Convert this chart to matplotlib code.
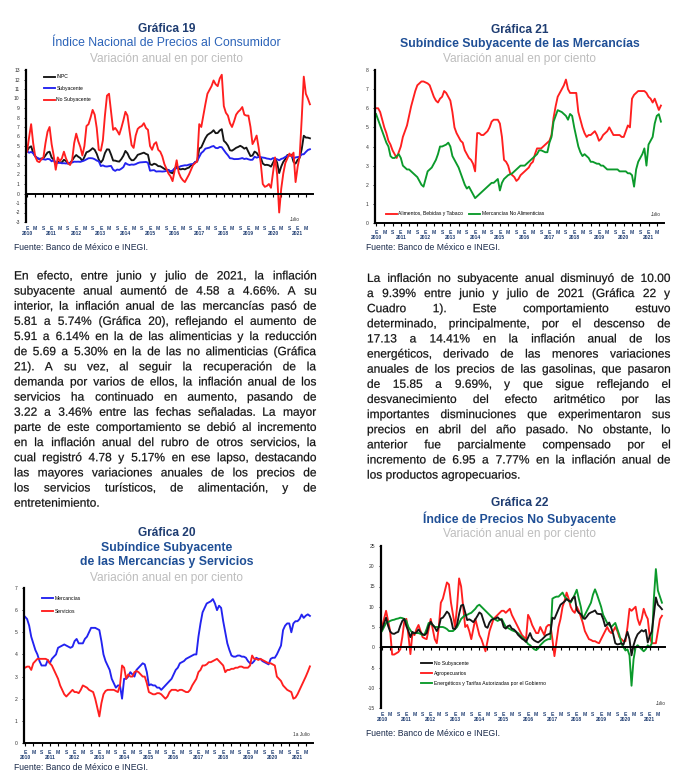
import numpy as np
import matplotlib
matplotlib.use("Agg")
import matplotlib.pyplot as plt
from matplotlib.textpath import TextPath
from matplotlib.patches import PathPatch
from matplotlib.font_manager import FontProperties
from matplotlib.transforms import Affine2D

plt.rcParams['font.family'] = ['Liberation Sans', 'DejaVu Sans']
plt.rcParams['axes.unicode_minus'] = False

# monthly data, Jan 2010 .. Jul 2021 (annual % change)
years = list(range(2010, 2022))

inpc = [4.46, 4.83, 4.97, 4.27, 3.92, 3.69, 3.64, 3.68, 3.70, 4.02, 4.32, 4.40,
        3.78, 3.57, 3.04, 3.36, 3.25, 3.28, 3.55, 3.42, 3.14, 3.20, 3.48, 3.82,
        4.05, 3.87, 3.73, 3.41, 3.85, 4.34, 4.42, 4.57, 4.77, 4.60, 4.18, 3.57,
        3.25, 3.55, 4.25, 4.65, 4.63, 4.09, 3.47, 3.46, 3.39, 3.36, 3.62, 3.97,
        4.48, 4.23, 3.76, 3.50, 3.51, 3.75, 4.07, 4.15, 4.22, 4.30, 4.17, 4.08,
        3.07, 3.00, 3.14, 3.06, 2.88, 2.87, 2.74, 2.59, 2.52, 2.48, 2.21, 2.13,
        2.61, 2.87, 2.60, 2.54, 2.60, 2.54, 2.65, 2.73, 2.97, 3.06, 3.31, 3.36,
        4.72, 4.86, 5.35, 5.82, 6.16, 6.31, 6.44, 6.66, 6.35, 6.37, 6.63, 6.77,
        5.55, 5.34, 5.04, 4.55, 4.51, 4.65, 4.81, 4.90, 5.02, 4.90, 4.72, 4.83,
        4.37, 3.94, 4.00, 4.41, 4.28, 3.95, 3.78, 3.16, 3.00, 3.02, 2.97, 2.83,
        3.24, 3.70, 3.25, 2.15, 2.84, 3.33, 3.62, 4.05, 4.01, 4.09, 3.33, 3.15,
        3.54, 3.76, 4.67, 6.08, 5.89, 5.88, 5.81]

subyacente = [4.47, 4.29, 4.38, 4.24, 3.92, 3.75, 3.65, 3.60, 3.61, 3.56, 3.64, 3.61,
              3.39, 3.51, 3.27, 3.21, 3.25, 3.18, 3.19, 3.16, 3.19, 3.24, 3.26, 3.35,
              3.34, 3.35, 3.33, 3.41, 3.48, 3.60, 3.71, 3.72, 3.70, 3.61, 3.47, 3.39,
              2.89, 2.96, 2.86, 2.84, 2.88, 2.90, 2.51, 2.38, 2.52, 2.48, 2.61, 2.78,
              3.21, 3.07, 3.00, 3.05, 3.03, 3.09, 3.20, 3.27, 3.29, 3.31, 3.32, 3.24,
              2.40, 2.44, 2.46, 2.31, 2.33, 2.33, 2.31, 2.33, 2.38, 2.47, 2.34, 2.41,
              2.64, 2.65, 2.76, 2.88, 2.93, 2.97, 2.96, 3.04, 3.09, 3.10, 3.29, 3.44,
              3.84, 4.26, 4.44, 4.72, 4.78, 4.83, 4.94, 5.00, 4.80, 4.77, 4.90, 4.87,
              4.56, 4.27, 4.02, 3.71, 3.69, 3.62, 3.63, 3.63, 3.67, 3.73, 3.63, 3.68,
              3.60, 3.54, 3.55, 3.87, 3.77, 3.85, 3.82, 3.78, 3.75, 3.68, 3.65, 3.59,
              3.73, 3.66, 3.60, 3.50, 3.64, 3.71, 3.85, 3.97, 3.99, 3.98, 3.66, 3.80,
              3.84, 3.87, 4.12, 4.13, 4.37, 4.58, 4.66]

no_subyacente = [4.4, 5.9, 7.3, 5.3, 3.9, 3.4, 3.3, 3.6, 3.8, 5.3, 6.5, 7.0,
                 5.2, 4.0, 2.5, 3.8, 3.4, 3.7, 4.4, 3.7, 3.2, 3.0, 3.5, 5.3,
                 6.3, 5.5, 4.9, 4.0, 5.0, 7.1, 7.3, 8.0, 8.8, 8.3, 6.9, 4.6,
                 4.5, 5.6, 8.2, 10.3, 10.5, 8.6, 6.7, 6.9, 6.6, 6.2, 6.9, 7.7,
                 8.6, 8.2, 6.6, 5.1, 4.8, 6.1, 6.8, 7.0, 7.1, 7.4, 6.9, 6.7,
                 5.0, 4.6, 5.2, 5.4, 4.6, 4.4, 3.9, 3.1, 2.6, 2.1, 1.8, 1.3,
                 2.4, 3.5, 2.2, 1.7, 1.4, 1.2, 1.6, 2.0, 2.5, 3.0, 3.2, 3.4,
                 7.3, 7.0, 8.2, 9.4, 10.5, 10.9, 11.3, 11.9, 11.5, 11.3, 12.1, 12.5,
                 9.2, 8.5, 8.2, 7.4, 7.0, 7.6, 8.3, 8.6, 8.8, 9.1, 8.3, 8.2,
                 8.2, 7.0, 5.2, 5.6, 6.1, 4.8, 3.2, 1.0, 0.7, 0.8, 1.0, 0.6,
                 2.2, 3.8, 2.0, -2.0, 0.5, 2.1, 3.2, 3.7, 4.2, 3.9, 4.3, 1.2,
                 2.8, 3.9, 7.9, 12.3, 10.5, 10.0, 9.39]

mercancias = [5.7, 5.6, 5.3, 4.8, 4.5, 4.2, 4.0, 3.7, 3.5, 3.5, 3.5, 3.75,
              3.6, 3.8, 3.9, 4.0, 4.3, 4.35, 4.4, 4.45, 4.4, 4.35, 4.3, 4.35,
              4.6, 4.7, 4.5, 4.5, 4.5, 4.7, 4.8, 5.0, 5.2, 5.2, 5.2, 5.15,
              5.1, 4.6, 4.0, 3.7, 3.5, 3.3, 2.9, 2.7, 2.5, 2.6, 2.6, 2.0,
              2.9, 2.9, 3.0, 3.2, 3.1, 3.0, 3.3, 3.4, 3.5, 3.6, 3.55, 3.2,
              2.6, 2.65, 2.6, 2.6, 2.5, 2.5, 2.4, 2.5, 2.6, 2.7, 2.8, 2.9,
              3.1, 3.3, 3.4, 3.6, 3.65, 3.7, 3.8, 3.85, 3.9, 3.95, 4.0, 4.0,
              4.8, 5.4, 5.9, 6.1, 6.3, 6.35, 6.4, 6.5, 6.3, 6.0, 6.2, 6.1,
              5.5, 5.0, 4.5, 4.2, 3.95, 3.9, 3.9, 3.95, 3.95, 3.9, 3.9, 3.85,
              3.7, 3.6, 3.6, 3.7, 3.85, 3.8, 3.8, 3.7, 3.65, 3.6, 3.55, 3.8,
              3.85, 3.85, 4.0, 4.2, 4.4, 5.1, 5.3, 5.4, 5.4, 5.0, 5.4, 5.5,
              5.5, 5.6, 5.8, 5.65, 5.75, 5.81, 5.74]

servicios = [3.4, 3.45, 3.45, 3.3, 3.6, 3.7, 3.8, 3.8, 3.8, 3.8, 3.8, 3.75,
             3.6, 3.5, 3.3, 3.1, 2.9, 2.6, 2.4, 2.2, 2.1, 2.2, 2.3, 2.4,
             2.3, 2.3, 2.25, 2.4, 2.6, 2.55, 2.5, 2.4, 2.35, 2.3, 2.0, 1.6,
             1.2, 1.8, 2.2, 2.35, 2.4, 2.4, 2.4, 2.4, 2.35, 2.3, 2.6, 3.5,
             3.4, 2.9, 3.1, 3.0, 3.0, 3.2, 3.25, 3.2, 3.1, 3.0, 3.0, 2.7,
             2.3, 2.25, 2.2, 2.2, 2.25, 2.25, 2.2, 2.1, 2.0, 2.1, 2.3, 2.4,
             2.4, 2.4, 2.35, 2.4, 2.4, 2.35, 2.3, 2.3, 2.4, 2.6, 2.75, 2.9,
             3.2, 3.3, 3.5, 3.5, 3.55, 3.65, 3.65, 3.7, 3.75, 3.8, 3.7, 3.6,
             3.5, 3.2, 3.3, 3.3, 3.35, 3.35, 3.4, 3.4, 3.45, 3.45, 3.4, 3.4,
             3.4, 3.5, 3.95, 3.8, 3.8, 3.75, 3.8, 3.75, 3.7, 3.65, 3.6, 3.6,
             3.55, 3.5, 3.0, 2.9, 2.8, 2.6, 2.5, 2.4, 2.35, 2.3, 2.0, 2.05,
             2.2, 2.4, 2.6, 2.8, 3.0, 3.22, 3.46]

alimentos = [6.0, 6.0, 5.8, 5.4, 5.0, 4.7, 4.3, 4.1, 3.8, 3.6, 3.4, 3.7,
             4.0, 4.5, 4.8, 5.1, 5.6, 6.1, 6.5, 6.9, 7.2, 7.3, 7.4, 7.4,
             7.35, 7.3, 7.2, 6.9, 6.6, 6.4, 6.3, 6.5, 6.6, 6.9, 6.8, 6.6,
             6.4, 5.8, 5.0, 4.7, 4.5, 4.3, 4.2, 3.8, 3.6, 3.4, 3.3, 3.1,
             2.7, 4.7, 4.7, 4.6, 4.6, 4.7, 4.8, 5.0, 5.3, 5.4, 5.4, 5.4,
             5.2, 4.5, 3.3, 3.2, 3.0, 2.6, 2.5, 2.4, 2.2, 2.3, 2.5, 2.6,
             2.7, 2.8, 2.9, 3.1, 3.2, 3.6, 3.9, 3.9, 3.9, 4.0, 4.1, 4.2,
             4.3, 4.6, 5.5, 6.1, 6.6, 6.8, 7.0, 7.2, 7.5, 7.0, 6.8, 6.8,
             6.8, 6.8, 5.8, 5.4, 5.0, 4.7, 4.5, 4.6, 4.6, 4.7, 4.8, 4.6,
             4.3, 4.4, 4.6, 4.7, 4.8, 5.0, 4.8, 4.6, 4.6, 4.6, 4.6, 4.5,
             4.5, 4.8, 5.1, 5.0, 6.5, 6.7, 6.8, 6.9, 6.9, 6.9, 6.9, 6.8,
             6.6, 6.5, 6.3, 6.5, 6.2, 5.91, 6.14]

no_alimenticias = [5.7, 5.4, 5.1, 4.8, 4.5, 4.2, 4.0, 3.5, 3.4, 3.4, 3.5, 3.6,
                   3.4, 3.0, 2.9, 2.8, 2.8, 2.7, 2.6, 2.5, 2.4, 2.2, 2.0, 1.9,
                   2.3, 2.7, 2.8, 2.9, 3.1, 3.3, 3.6, 4.0, 4.0, 4.05, 4.1, 4.2,
                   4.0, 3.5, 3.3, 3.1, 2.9, 2.6, 2.3, 2.0, 1.8, 1.9, 1.7, 1.5,
                   1.3, 1.4, 1.5, 1.6, 1.7, 1.8, 1.9, 2.0, 2.1, 2.1, 2.2, 2.3,
                   1.7, 2.1, 2.3, 2.4, 2.5, 2.55, 2.6, 2.7, 2.8, 2.9, 3.0, 3.0,
                   3.0, 3.1, 3.2, 3.3, 3.4, 3.5, 3.6, 3.8, 3.8, 3.75, 3.7, 3.7,
                   4.2, 4.5, 5.3, 5.6, 5.9, 5.85, 5.8, 5.7, 5.6, 5.4, 5.7, 5.6,
                   5.0, 4.5, 4.0, 3.7, 3.5, 3.6, 3.5, 3.4, 3.2, 3.2, 3.15, 3.1,
                   3.1, 3.0, 3.0, 2.9, 2.8, 2.8, 2.8, 2.8, 2.8, 2.8, 2.7, 2.7,
                   2.7, 2.7, 2.6, 2.6, 2.5, 1.9, 2.8, 3.2, 3.4, 3.6, 3.9, 3.0,
                   4.1, 4.3, 4.5, 5.2, 5.6, 5.69, 5.30]

agropecuarios = [5.0, 7.0, 9.0, 6.5, 4.0, -1.8, -1.8, -1.5, -1.2, -0.5, 2.5, 6.5,
                 7.0, 3.0, -1.7, 3.5, 3.0, 4.5, 5.5, 4.0, 2.5, 2.2, 2.0, 4.5,
                 7.0, 4.5, 2.0, 1.0, 5.0, 11.0, 12.0, 14.0, 16.0, 15.5, 11.0, 8.0,
                 5.0, 10.0, 17.0, 15.0, 10.0, 5.0, 5.5, 4.0, 2.0, 4.5, 7.0, 5.0,
                 3.0, 2.0, 0.5, -1.0, 1.5, 4.0, 5.5, 7.0, 7.5, 8.0, 8.5, 9.0,
                 9.0, 8.5, 9.0, 9.5, 8.0, 7.0, 6.0, 5.0, 4.0, 3.0, 2.5, 2.0,
                 8.0, 7.0, 5.5, 4.5, 3.5, 3.5, 5.0, 4.0, 3.0, 5.0, 5.5, 5.5,
                 2.0, -2.2, 1.5, 5.0, 7.0, 10.0, 11.5, 13.5, 12.0, 10.0, 9.0, 8.5,
                 10.0, 9.0, 7.5, 6.0, 4.0, 3.0, 2.0, 1.8, 1.5, 1.5, 1.2, 1.0,
                 2.0, 3.0, 4.0, 5.0, 4.0, 3.5, 4.0, 5.0, 4.0, 2.5, 2.0, 1.5,
                 1.5, 5.0, 9.5, 9.0, 9.5, 10.0, 7.0, 5.5, 7.0, 9.5, 8.0, 7.0,
                 2.5, 1.0, 1.0, 1.0, 4.0, 6.95, 7.77]

energeticos = [4.0, 5.0, 6.0, 6.2, 6.5, 6.7, 6.8, 7.0, 7.1, 7.3, 7.2, 7.0,
               6.5, 5.0, 4.2, 3.5, 3.5, 3.5, 3.5, 3.3, 3.0, 3.2, 4.5, 6.0,
               5.8, 5.5, 5.0, 5.0, 5.0, 5.0, 5.0, 4.8, 4.5, 4.0, 4.0, 4.0,
               4.5, 5.0, 6.0, 7.0, 7.5, 8.0, 8.0, 8.3, 8.5, 9.0, 9.5, 10.2,
               10.5, 10.0, 9.5, 9.0, 8.5, 8.0, 7.5, 7.0, 6.8, 6.5, 6.8, 7.0,
               6.0, 5.0, 4.8, 4.5, 4.2, 4.0, 3.8, 3.5, 3.0, 2.5, 2.0, 1.5,
               0.8, 0.5, 0.0, -0.5, -0.7, -0.3, 0.5, 1.0, 1.5, 1.8, 2.0, 2.0,
               12.0, 12.3, 12.5, 12.5, 13.0, 13.5, 12.5, 12.0, 11.5, 11.0, 12.0, 13.0,
               14.2, 12.0, 10.0, 7.0, 8.0, 9.0, 10.0, 11.0, 13.0, 14.3, 13.0, 11.5,
               10.0, 8.0, 7.0, 6.0, 5.5, 5.0, 5.5, 6.0, 4.5, 3.0, 1.0, 0.0,
               -0.8, -0.5, -2.0, -9.5, -3.0, 0.0, 0.5, 0.0, -0.5, -1.0, -0.5, 0.5,
               0.0, 1.0, 12.0, 19.3, 14.0, 12.5, 11.0]

months = np.arange(len(inpc))

RED = '#ff1f1f'
BLUE = '#2323f0'
BLACK = '#151515'
GREEN = '#0b9a2b'
NAVY = '#1f3d72'
MIDBLUE = '#1f4f96'
GRAY = '#bdbdbd'

W, H = 684, 782
fig = plt.figure(figsize=(W / 100, H / 100), dpi=100)


def fx(x):
    return x / W


def fy(y):
    return 1 - y / H


def add_ax(l, t, r, b):
    return fig.add_axes([l / W, 1 - b / H, (r - l) / W, (b - t) / H])


def titles(xc, ys, lines, sub_weight='bold', sub_color=MIDBLUE):
    fig.text(fx(xc), fy(ys[0]), lines[0], ha='center', va='center',
             fontsize=8.6, fontweight='bold', color=NAVY)
    for y, t in zip(ys[1:-1], lines[1:-1]):
        fig.text(fx(xc), fy(y), t, ha='center', va='center',
                 fontsize=8.8, fontweight=sub_weight, color=sub_color)
    fig.text(fx(xc), fy(ys[-1]), lines[-1], ha='center', va='center',
             fontsize=8.6, color=GRAY)


def source(x, y):
    fig.text(fx(x), fy(y), 'Fuente: Banco de México e INEGI.', ha='left',
             va='center', fontsize=6.2, color='#1a2a4a')


tick_pos = list(range(0, len(months), 4))
tick_lab = []
for p in tick_pos:
    m = p % 12
    if m == 0:
        tick_lab.append('E\n' + str(years[p // 12]))
    elif m == 4:
        tick_lab.append('M')
    else:
        tick_lab.append('S')


def style(ax, ylo, yhi, step, zero_line=False):
    ax.set_xlim(-0.5, 139.5)
    ax.set_ylim(ylo, yhi)
    ax.set_yticks(np.arange(ylo, yhi + step / 2, step))
    for s in ['top', 'right']:
        ax.spines[s].set_visible(False)
    ax.spines['left'].set_linewidth(1.6)
    ax.tick_params(axis='y', labelsize=3.6, length=1.5, width=0.6,
                   pad=3, labelcolor='#333333')
    ax.patch.set_alpha(0)
    if zero_line:
        ax.spines['bottom'].set_position(('data', 0))
        ax.spines['bottom'].set_linewidth(1.4)
        ax.set_xticks(tick_pos)
        ax.tick_params(axis='x', length=2, width=0.8, direction='out',
                       labelbottom=False)
        sec = ax.secondary_xaxis('bottom')
        sec.set_xticks(tick_pos, tick_lab)
        sec.spines['bottom'].set_visible(False)
        sec.tick_params(length=0, labelsize=3.6, pad=3, labelcolor=NAVY)
        for lab in sec.get_xticklabels():
            lab.set_fontweight('bold')
            lab.set_linespacing(1.0)
    else:
        ax.spines['bottom'].set_linewidth(1.4)
        ax.set_xticks(tick_pos, tick_lab)
        ax.tick_params(axis='x', length=2, width=0.8, direction='out',
                       labelsize=3.6, pad=3, labelcolor=NAVY)
        for lab in ax.get_xticklabels():
            lab.set_fontweight('bold')
            lab.set_linespacing(1.0)


LW = 1.35
LEG = dict(frameon=False, fontsize=3.6, handlelength=2.2, handletextpad=0.3,
           borderaxespad=0)

# ---- Grafica 19
titles(166.5, [29.5, 43.5, 59],
       ['Gráfica 19', 'Índice Nacional de Precios al Consumidor',
        'Variación anual en por ciento'],
       sub_weight='normal', sub_color='#2a62b8')
ax = add_ax(26, 70, 313, 222)
style(ax, -3, 13, 1, zero_line=True)
ax.plot(months, inpc, color=BLACK, lw=LW, label='INPC')
ax.plot(months, subyacente, color=BLUE, lw=LW, label='Subyacente')
ax.plot(months, no_subyacente, color=RED, lw=LW, label='No Subyacente')
ax.legend(loc='upper left', bbox_to_anchor=(0.055, 0.985), labelspacing=1.3, **LEG)
ax.text(128, -2.7, 'Julio', fontsize=3.4, color='#333333', ha='left', va='center')
source(14, 247)

# ---- Grafica 21
titles(519.5, [30, 43.5, 59],
       ['Gráfica 21', 'Subíndice Subyacente de las Mercancías',
        'Variación anual en por ciento'])
ax = add_ax(375, 70, 664, 223)
style(ax, 0, 8, 1)
ax.plot(months, alimentos, color=RED, lw=LW, label='Alimentos, Bebidas y Tabaco')
ax.plot(months, no_alimenticias, color=GREEN, lw=LW, label='Mercancías No Alimenticias')
ax.legend(loc='center left', bbox_to_anchor=(0.03, 0.06), ncol=2,
          columnspacing=1.2, **LEG)
ax.text(133, 0.45, 'Julio', fontsize=3.4, color='#333333', ha='left', va='center')
source(366, 247)

# ---- Grafica 20
titles(166.5, [533, 548, 562, 578],
       ['Gráfica 20', 'Subíndice Subyacente', 'de las Mercancías y Servicios',
        'Variación anual en por ciento'])
ax = add_ax(24, 588, 313, 743)
style(ax, 0, 7, 1)
ax.plot(months, mercancias, color=BLUE, lw=LW, label='Mercancías')
ax.plot(months, servicios, color=RED, lw=LW, label='Servicios')
ax.legend(loc='upper left', bbox_to_anchor=(0.055, 0.96), labelspacing=1.6, **LEG)
ax.text(130, 0.4, '1a Julio', fontsize=3.4, color='#333333', ha='left', va='center')
source(14, 767)

# ---- Grafica 22
titles(519.5, [503, 519, 534],
       ['Gráfica 22', 'Índice de Precios No Subyacente',
        'Variación anual en por ciento'])
ax = add_ax(381, 546, 665, 708)
style(ax, -15, 25, 5, zero_line=True)
ax.plot(months, agropecuarios, color=RED, lw=LW, label='Agropecuarios')
ax.plot(months, energeticos, color=GREEN, lw=LW,
        label='Energéticos y Tarifas Autorizadas por el Gobierno')
ax.plot(months, no_subyacente, color=BLACK, lw=LW, label='No Subyacente')
h, l = ax.get_legend_handles_labels()
ax.legend([h[2], h[0], h[1]], [l[2], l[0], l[1]], loc='upper left',
          bbox_to_anchor=(0.135, 0.305), labelspacing=1.0, **LEG)
ax.text(135, -13.8, 'Julio', fontsize=3.4, color='#333333', ha='left', va='center')
source(366, 734)

# ---- text paragraphs (justified)
left_lines = [
    'En efecto, entre junio y julio de 2021, la inflación',
    'subyacente anual aumentó de 4.58 a 4.66%. A su',
    'interior, la inflación anual de las mercancías pasó de',
    '5.81 a 5.74% (Gráfica 20), reflejando el aumento de',
    '5.91 a 6.14% en la de las alimenticias y la reducción',
    'de 5.69 a 5.30% en la de las no alimenticias (Gráfica',
    '21). A su vez, al seguir la recuperación de la',
    'demanda por varios de ellos, la inflación anual de los',
    'servicios ha continuado en aumento, pasando de',
    '3.22 a 3.46% entre las fechas señaladas. La mayor',
    'parte de este comportamiento se debió al incremento',
    'en la inflación anual del rubro de otros servicios, la',
    'cual registró 4.78 y 5.17% en ese lapso, destacando',
    'las mayores variaciones anuales de los precios de',
    'los servicios turísticos, de alimentación, y de',
    'entretenimiento.',
]
right_lines = [
    'La inflación no subyacente anual disminuyó de 10.00',
    'a 9.39% entre junio y julio de 2021 (Gráfica 22 y',
    'Cuadro 1). Este comportamiento estuvo',
    'determinado, principalmente, por el descenso de',
    '17.13 a 14.41% en la inflación anual de los',
    'energéticos, derivado de las menores variaciones',
    'anuales de los precios de las gasolinas, que pasaron',
    'de 15.85 a 9.69%, y que sigue reflejando el',
    'desvanecimiento del efecto aritmético por las',
    'importantes disminuciones que experimentaron sus',
    'precios en abril del año pasado. No obstante, lo',
    'anterior fue parcialmente compensado por el',
    'incremento de 6.95 a 7.77% en la inflación anual de',
    'los productos agropecuarios.',
]

# words drawn as text paths so every word sits on the same baseline
TXT_FP = FontProperties(family='Liberation Sans')
TXT_PX = 8.6 * 100 / 72


def word(s, x, yb):
    tp = TextPath((0, 0), s, size=TXT_PX, prop=TXT_FP)
    tr = Affine2D().translate(x, H - yb).scale(1 / W, 1 / H) + fig.transFigure
    fig.add_artist(PathPatch(tp, transform=tr, facecolor='#111111',
                             edgecolor='#111111', lw=0.15))
    return tp.get_extents().x1


def paragraph(lines, x0, x1, y0, dy):
    for i, line in enumerate(lines):
        yb = y0 + i * dy + 3.4
        if i == len(lines) - 1:
            word(line, x0, yb)
            continue
        words = line.split()
        ws = [TextPath((0, 0), w, size=TXT_PX, prop=TXT_FP).get_extents().x1
              for w in words]
        gap = (x1 - x0 - sum(ws)) / (len(words) - 1)
        x = x0
        for w, wd in zip(words, ws):
            word(w, x, yb)
            x += wd + gap


paragraph(left_lines, 14, 316, 276, 15.15)
paragraph(right_lines, 367, 670, 278.5, 15.13)

fig.savefig('out.png', dpi=100)
